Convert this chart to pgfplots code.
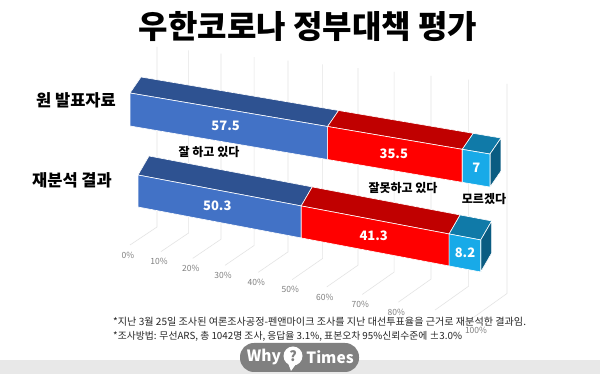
\documentclass[border=0pt]{standalone}
\usepackage{fontspec}
\setmainfont{Noto Sans CJK KR}
\usepackage{pgfplots}
\pgfplotsset{compat=1.18}

\definecolor{bluefront}{RGB}{66,114,198}
\definecolor{bluetop}{RGB}{46,82,145}
\definecolor{redfront}{RGB}{255,0,0}
\definecolor{redtop}{RGB}{192,0,0}
\definecolor{cyanfront}{RGB}{24,170,232}
\definecolor{cyantop}{RGB}{16,122,168}
\definecolor{cyanside}{RGB}{10,92,130}
\definecolor{gridc}{RGB}{228,228,228}
\definecolor{tickc}{RGB}{128,128,128}
\definecolor{logoc}{RGB}{128,128,128}
\definecolor{bandc}{RGB}{232,232,232}

\pgfplotsset{
  barframe/.style={
    hide axis, clip=false, anchor=origin, no markers,
    xmin=0, xmax=100, ymin=0, ymax=1, zmin=0, zmax=1,
    x coord trafo/.code={\pgfmathparse{##1+0.0012*##1*##1}},
    every axis plot/.append style={draw=white, line width=0.6pt, line join=round},
  },
}
\tikzset{vlab/.style={font=\bfseries\fontsize{13}{13}\selectfont, text=white}}

\begin{document}
\begin{tikzpicture}
\useasboundingbox (0pt,0pt) rectangle (600pt,374pt);
\fill[white] (0pt,0pt) rectangle (600pt,374pt);
\fill[bandc] (0pt,0pt) rectangle (600pt,14pt);

% grid lines and tick labels
\begin{axis}[hide axis, clip=false, anchor=origin, at={(0pt,0pt)},
  x={(1pt,0pt)}, y={(0pt,1pt)}, xmin=0, xmax=600, ymin=0, ymax=374, no markers]
\addplot[gridc, line width=0.6pt] coordinates {(130,129) (157,147) (157,327)};
\addplot[gridc, line width=0.6pt] coordinates {(161,122.4) (188.6,141.0) (188.6,323.7)};
\addplot[gridc, line width=0.6pt] coordinates {(192.7,115.6) (221.0,134.8) (221.0,320.3)};
\addplot[gridc, line width=0.6pt] coordinates {(225.1,108.7) (254.1,128.5) (254.1,316.8)};
\addplot[gridc, line width=0.6pt] coordinates {(258.3,101.7) (288.0,122.1) (288.0,313.3)};
\addplot[gridc, line width=0.6pt] coordinates {(292.2,94.4) (322.6,115.5) (322.6,309.6)};
\addplot[gridc, line width=0.6pt] coordinates {(326.8,87.1) (358.0,108.8) (358.0,305.9)};
\addplot[gridc, line width=0.6pt] coordinates {(362.2,79.5) (394.1,101.9) (394.1,302.1)};
\addplot[gridc, line width=0.6pt] coordinates {(398.3,71.8) (431.0,94.9) (431.0,298.2)};
\addplot[gridc, line width=0.6pt] coordinates {(435.1,64.0) (468.6,87.8) (468.6,294.3)};
\addplot[gridc, line width=0.6pt] coordinates {(472.7,56.0) (507.0,80.5) (507.0,290.2)};
\begin{scope}[every node/.style={font=\fontsize{8.5}{9}\selectfont, text=tickc}]
\node at (axis cs:128,119) {0\%};
\node at (axis cs:159,112.4) {10\%};
\node at (axis cs:190.7,105.6) {20\%};
\node at (axis cs:223.1,98.7) {30\%};
\node at (axis cs:256.3,91.7) {40\%};
\node at (axis cs:290.2,84.4) {50\%};
\node at (axis cs:324.8,77.1) {60\%};
\node at (axis cs:360.2,69.5) {70\%};
\node at (axis cs:396.3,61.8) {80\%};
\node at (axis cs:476,44) {100\%};
\end{scope}
\end{axis}

% bar 2: 재분석 결과 (50.3, 41.3, 8.2)
\begin{axis}[barframe, at={(138pt,167pt)},
  x={(3.06pt,-0.58pt)}, y={(11pt,19pt)}, z={(0pt,32pt)}]
\addplot3[fill=bluetop] coordinates {(0,0,1) (50.3,0,1) (50.3,1,1) (0,1,1)} --cycle;
\addplot3[fill=redtop] coordinates {(50.3,0,1) (91.6,0,1) (91.6,1,1) (50.3,1,1)} --cycle;
\addplot3[fill=cyantop] coordinates {(91.6,0,1) (100,0,1) (100,1,1) (91.6,1,1)} --cycle;
\addplot3[fill=cyanside] coordinates {(100,0,0) (100,1,0) (100,1,1) (100,0,1)} --cycle;
\addplot3[fill=bluefront] coordinates {(0,0,0) (50.3,0,0) (50.3,0,1) (0,0,1)} --cycle;
\addplot3[fill=redfront] coordinates {(50.3,0,0) (91.6,0,0) (91.6,0,1) (50.3,0,1)} --cycle;
\addplot3[fill=cyanfront] coordinates {(91.6,0,0) (100,0,0) (100,0,1) (91.6,0,1)} --cycle;
\node[vlab] at (axis cs:25.15,0,0.5) {50.3};
\node[vlab] at (axis cs:70.95,0,0.5) {41.3};
\node[vlab] at (axis cs:95.8,0,0.5) {8.2};
\end{axis}

% bar 1: 원 발표자료 (57.5, 35.5, 7)
\begin{axis}[barframe, at={(130pt,248pt)},
  x={(3.214pt,-0.545pt)}, y={(11pt,16pt)}, z={(0pt,33pt)}]
\addplot3[fill=bluetop] coordinates {(0,0,1) (57.5,0,1) (57.5,1,1) (0,1,1)} --cycle;
\addplot3[fill=redtop] coordinates {(57.5,0,1) (93,0,1) (93,1,1) (57.5,1,1)} --cycle;
\addplot3[fill=cyantop] coordinates {(93,0,1) (100,0,1) (100,1,1) (93,1,1)} --cycle;
\addplot3[fill=cyanside] coordinates {(100,0,0) (100,1,0) (100,1,1) (100,0,1)} --cycle;
\addplot3[fill=bluefront] coordinates {(0,0,0) (57.5,0,0) (57.5,0,1) (0,0,1)} --cycle;
\addplot3[fill=redfront] coordinates {(57.5,0,0) (93,0,0) (93,0,1) (57.5,0,1)} --cycle;
\addplot3[fill=cyanfront] coordinates {(93,0,0) (100,0,0) (100,0,1) (93,0,1)} --cycle;
\node[vlab] at (axis cs:28.75,0,0.5) {57.5};
\node[vlab] at (axis cs:75.25,0,0.5) {35.5};
\node[vlab] at (axis cs:96.5,0,0.5) {7};
\end{axis}

% titles and labels
\node[font=\bfseries\fontsize{32}{32}\selectfont] at (308pt,347pt) {우한코로나 정부대책 평가};
\node[font=\bfseries\fontsize{16.5}{16.5}\selectfont] at (76pt,274pt) {원 발표자료};
\node[font=\bfseries\fontsize{16.5}{16.5}\selectfont] at (72pt,194pt) {재분석 결과};
\node[font=\bfseries\fontsize{12}{12}\selectfont] at (209pt,222pt) {잘 하고 있다};
\node[font=\bfseries\fontsize{12}{12}\selectfont] at (403pt,186pt) {잘못하고 있다};
\node[font=\bfseries\fontsize{12}{12}\selectfont] at (484pt,175pt) {모르겠다};

% footnotes
\node[anchor=west, inner sep=0pt, font=\fontsize{10.1}{10.5}\selectfont, text=black!85] at (113pt,52pt)
  {*지난 3월 25일 조사된 여론조사공정-펜앤마이크 조사를 지난 대선투표율을 근거로 재분석한 결과임.};
\node[anchor=west, inner sep=0pt, font=\fontsize{9.8}{10.5}\selectfont, text=black!85] at (113pt,38pt)
  {*조사방법: 무선ARS, 총 1042명 조사, 응답율 3.1\%, 표본오차 95\%신뢰수준에 ±3.0\%};

% logo
\fill[logoc, rounded corners=14pt] (240pt,2pt) rectangle (359pt,31pt);
\node[font=\bfseries\fontsize{15.5}{15.5}\selectfont, text=white, inner sep=0pt] at (264pt,17pt) {Why};
\fill[white] (293pt,18pt) circle (9.5pt);
\fill[white] (288pt,11pt) -- (291pt,3pt) -- (296pt,10pt) -- cycle;
\node[font=\bfseries\fontsize{14}{14}\selectfont, text=logoc, inner sep=0pt] at (293pt,18pt) {?};
\node[font=\bfseries\fontsize{15.5}{15.5}\selectfont, text=white, inner sep=0pt] at (330pt,17pt) {Times};
\end{tikzpicture}
\end{document}
